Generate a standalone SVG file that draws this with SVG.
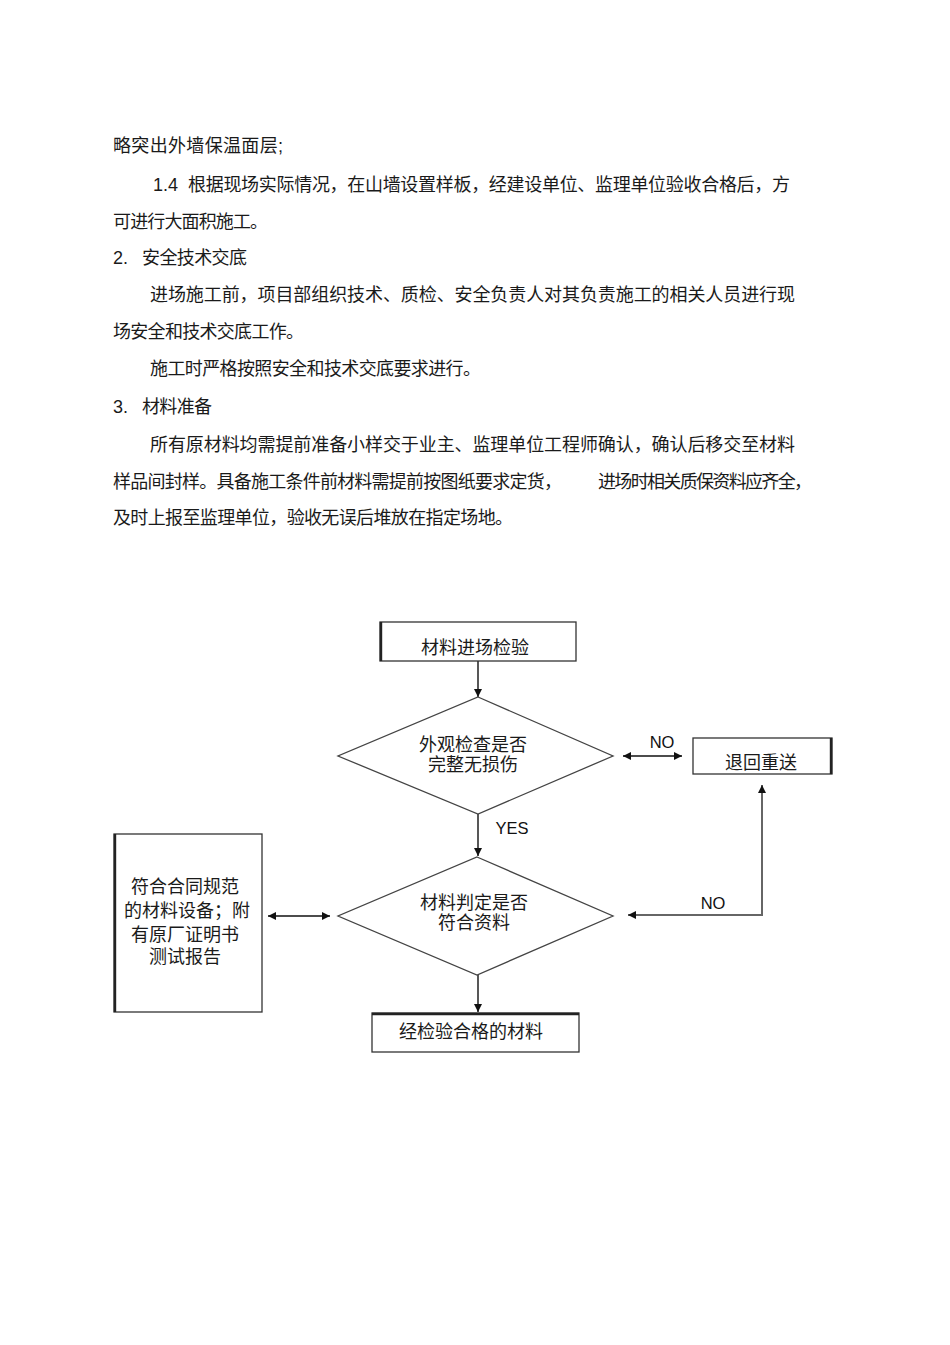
<svg xmlns="http://www.w3.org/2000/svg" width="950" height="1345" viewBox="0 0 950 1345">
  <style>
    .t { font-family: "Liberation Sans", "Noto Sans CJK SC", sans-serif; font-size: 18px; fill: #1a1a1a; }
    .c { text-anchor: middle; }
    .lbl { font-family: "Liberation Sans", Arial, sans-serif; font-size: 16.5px; fill: #111; text-anchor: middle; }
    .box { fill: #fff; stroke: #333; stroke-width: 1.3; }
    .dia { fill: #fff; stroke: #444; stroke-width: 1.3; }
    .edge { stroke: #222; stroke-width: 2.4; }
    .ln { fill: none; stroke: #111; stroke-width: 1.4; }
    .gray { fill: none; stroke: #666; stroke-width: 2; }
  </style>
  <defs>
    <marker id="ah" viewBox="0 0 10 10" refX="10" refY="5" markerWidth="9" markerHeight="8" markerUnits="userSpaceOnUse" orient="auto-start-reverse">
      <path d="M0,0 L10,5 L0,10 z" fill="#111"/>
    </marker>
  </defs>
  <rect width="950" height="1345" fill="#fff"/>

  <g id="body-text" class="t">
    <text x="113" y="152" textLength="170" lengthAdjust="spacing">略突出外墙保温面层;</text>
    <text x="153" y="191">1.4</text>
    <text x="188" y="191" textLength="602" lengthAdjust="spacing">根据现场实际情况，在山墙设置样板，经建设单位、监理单位验收合格后，方</text>
    <text x="113" y="228" textLength="155" lengthAdjust="spacing">可进行大面积施工。</text>
    <text x="113" y="264">2.</text>
    <text x="142" y="264" textLength="105" lengthAdjust="spacing">安全技术交底</text>
    <text x="150" y="301" textLength="645" lengthAdjust="spacing">进场施工前，项目部组织技术、质检、安全负责人对其负责施工的相关人员进行现</text>
    <text x="113" y="338" textLength="191" lengthAdjust="spacing">场安全和技术交底工作。</text>
    <text x="150" y="375" textLength="331" lengthAdjust="spacing">施工时严格按照安全和技术交底要求进行。</text>
    <text x="113" y="413">3.</text>
    <text x="142" y="413" textLength="70" lengthAdjust="spacing">材料准备</text>
    <text x="150" y="451" textLength="645" lengthAdjust="spacing">所有原材料均需提前准备小样交于业主、监理单位工程师确认，确认后移交至材料</text>
    <text x="113" y="488" textLength="449" lengthAdjust="spacing">样品间封样。具备施工条件前材料需提前按图纸要求定货，</text>
    <text x="598" y="488" textLength="214" lengthAdjust="spacing">进场时相关质保资料应齐全，</text>
    <text x="113" y="524" textLength="400" lengthAdjust="spacing">及时上报至监理单位，验收无误后堆放在指定场地。</text>
  </g>

  <g id="connectors">
    <line class="ln" x1="478" y1="661" x2="478" y2="697" marker-end="url(#ah)"/>
    <line class="ln" x1="623" y1="756" x2="682" y2="756" marker-start="url(#ah)" marker-end="url(#ah)"/>
    <line class="ln" x1="478" y1="814" x2="478" y2="856" marker-end="url(#ah)"/>
    <line class="ln" x1="268" y1="916" x2="330" y2="916" marker-start="url(#ah)" marker-end="url(#ah)"/>
    <polyline class="gray" points="628,915 762,915 762,785" marker-start="url(#ah)" marker-end="url(#ah)"/>
    <line class="ln" x1="478" y1="975" x2="478" y2="1012" marker-end="url(#ah)"/>
    <text class="lbl" x="662" y="748">NO</text>
    <text class="lbl" x="512" y="834">YES</text>
    <text class="lbl" x="713" y="909">NO</text>
  </g>

  <g id="node-start">
    <rect class="box" x="380" y="622" width="196" height="39"/>
    <line class="edge" x1="381" y1="622" x2="381" y2="661"/>
    <text class="t c" x="475" y="654">材料进场检验</text>
  </g>

  <g id="node-check1">
    <polygon class="dia" points="478,697 613,756 478,814 338,756"/>
    <text class="t c" x="473" y="751">外观检查是否</text>
    <text class="t c" x="473" y="771">完整无损伤</text>
  </g>

  <g id="node-return">
    <rect class="box" x="693" y="738" width="139" height="36"/>
    <line class="edge" x1="831" y1="738" x2="831" y2="774"/>
    <text class="t c" x="761" y="769">退回重送</text>
  </g>

  <g id="node-check2">
    <polygon class="dia" points="477,857 613,916 477,975 338,916"/>
    <text class="t c" x="474" y="909">材料判定是否</text>
    <text class="t c" x="474" y="929">符合资料</text>
  </g>

  <g id="node-docs">
    <rect class="box" x="114" y="834" width="148" height="178"/>
    <line class="edge" x1="115" y1="834" x2="115" y2="1012"/>
    <text class="t c" x="185" y="893">符合合同规范</text>
    <text class="t c" x="187" y="917">的材料设备；附</text>
    <text class="t c" x="185" y="941">有原厂证明书</text>
    <text class="t c" x="185" y="963">测试报告</text>
  </g>

  <g id="node-pass">
    <rect class="box" x="372" y="1013" width="207" height="39"/>
    <line class="edge" x1="372" y1="1014" x2="579" y2="1014"/>
    <text class="t c" x="471" y="1038">经检验合格的材料</text>
  </g>
</svg>
